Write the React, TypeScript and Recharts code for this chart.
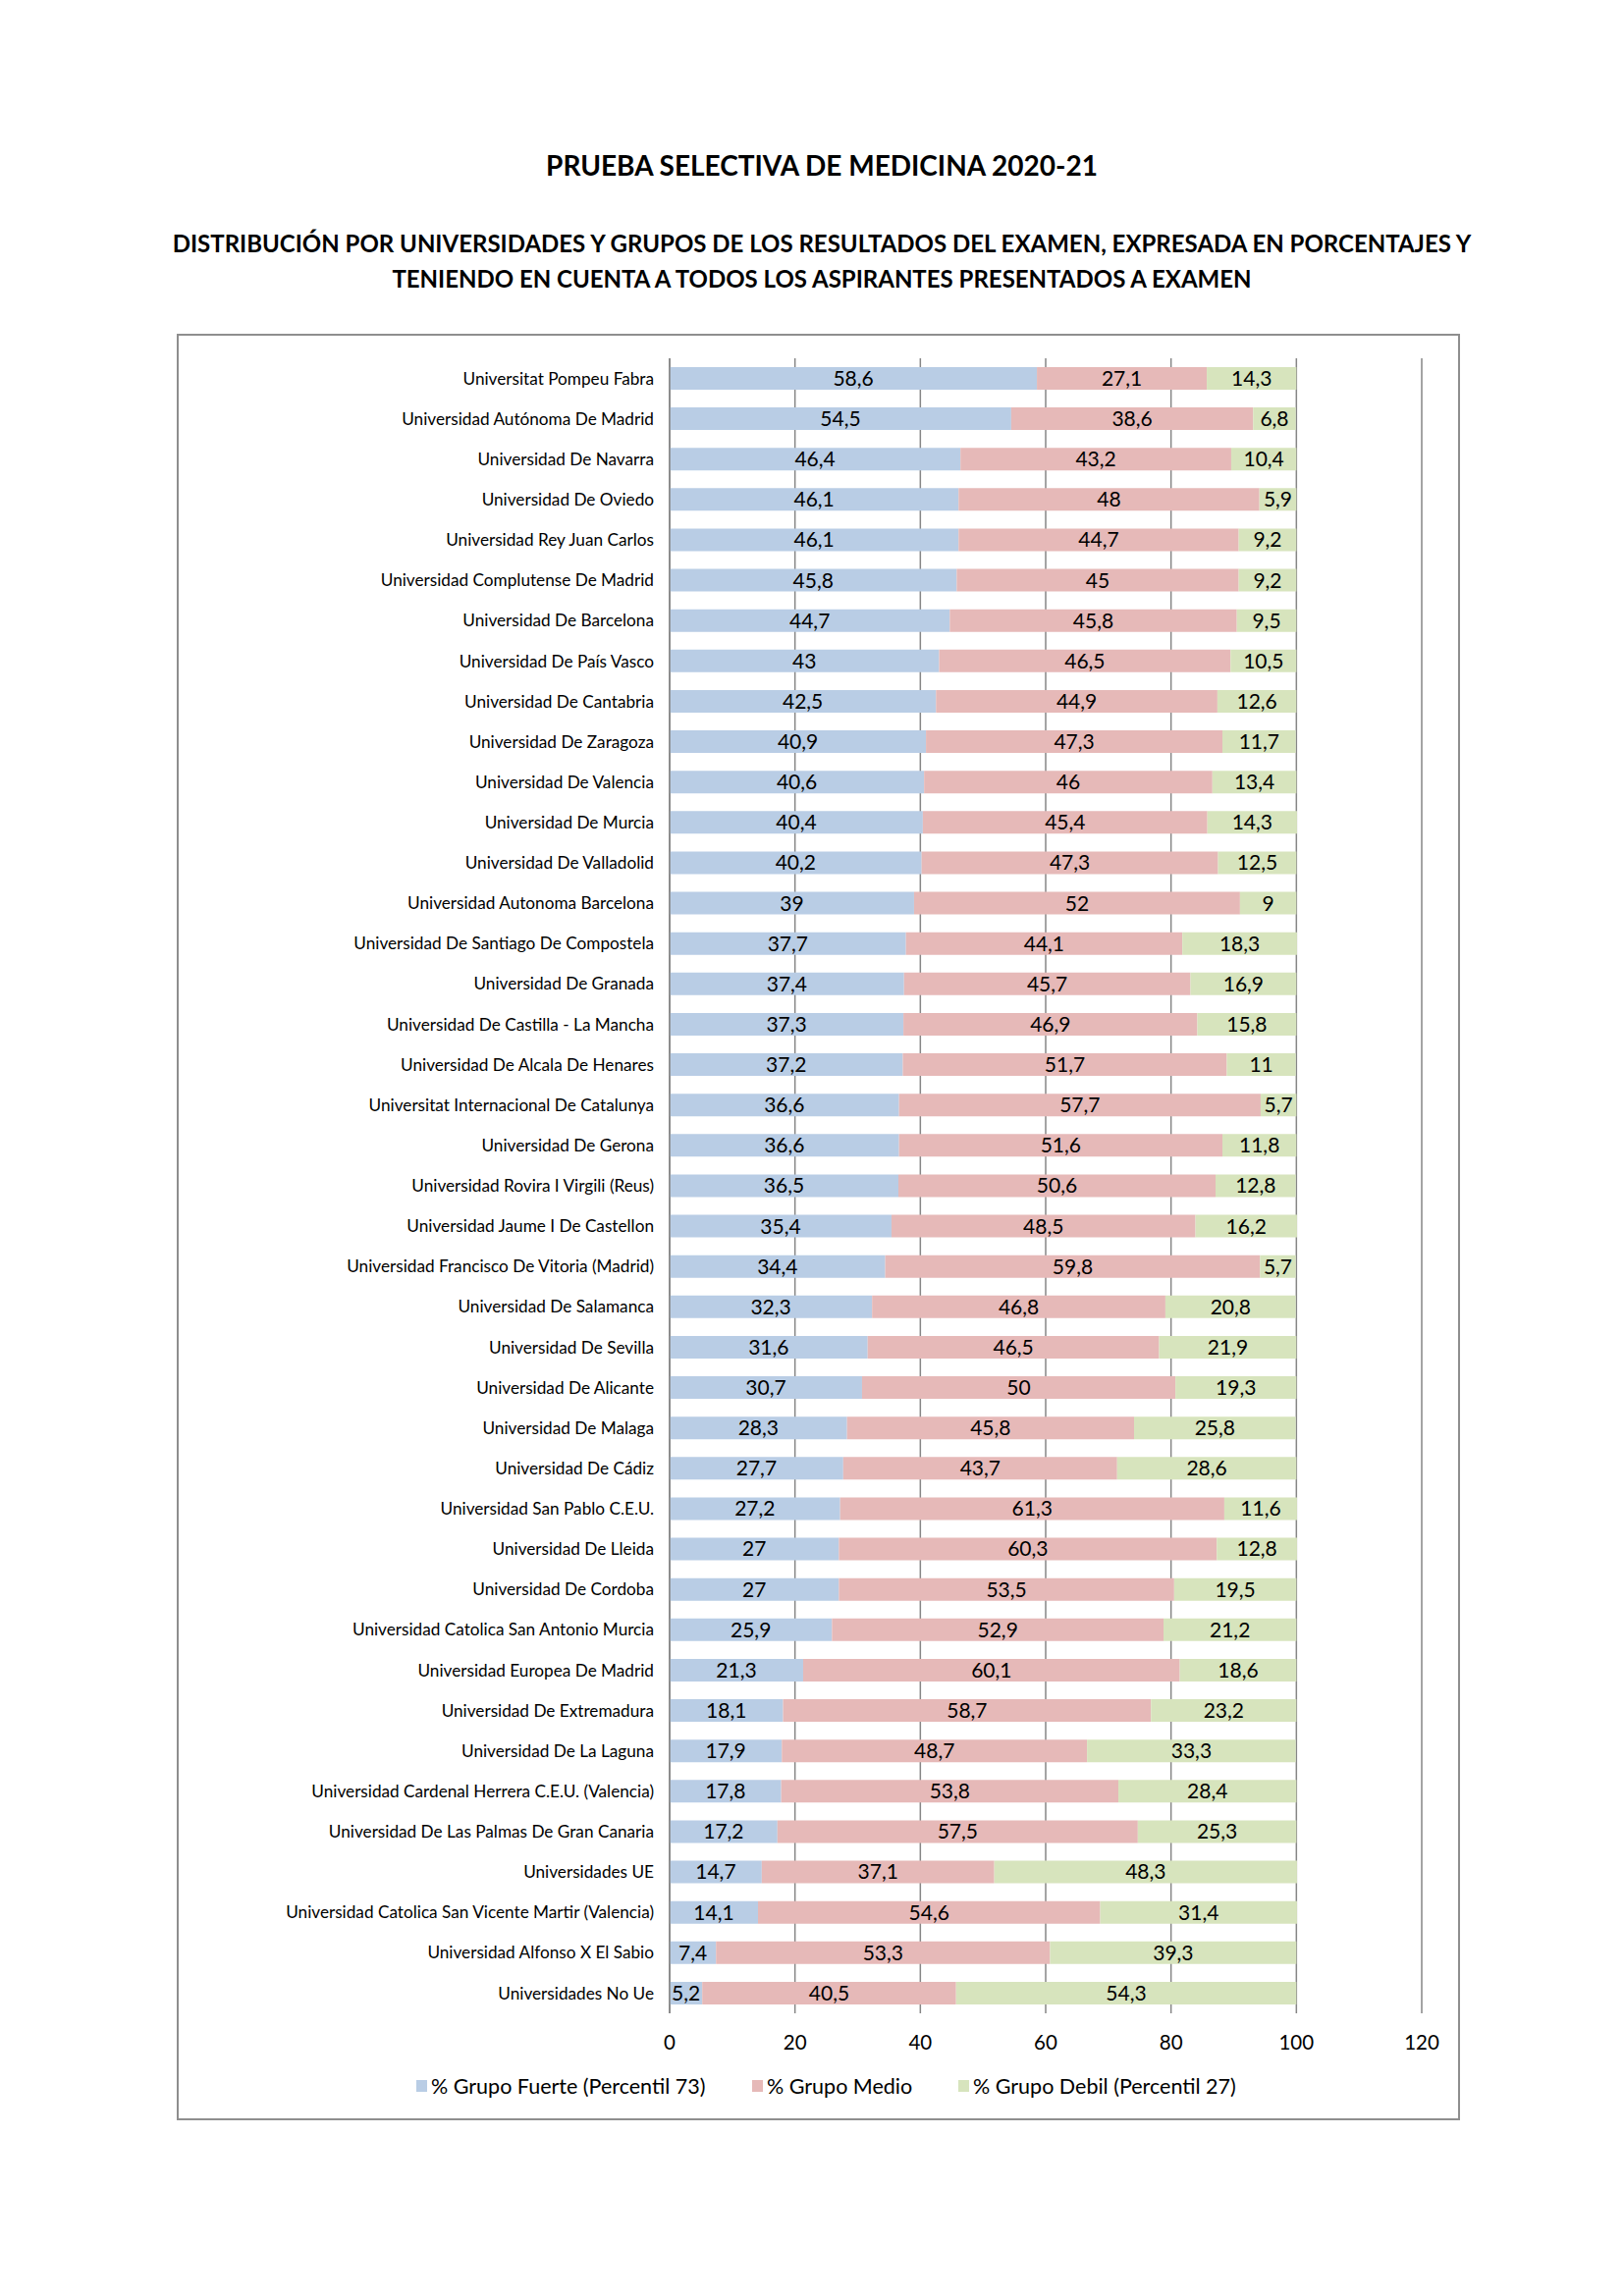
import React from 'react';
import { BarChart, Bar, XAxis, YAxis, CartesianGrid, LabelList } from 'recharts';

const categories = [
  'Universitat Pompeu Fabra',
  'Universidad Autónoma De Madrid',
  'Universidad De Navarra',
  'Universidad De Oviedo',
  'Universidad Rey Juan Carlos',
  'Universidad Complutense De Madrid',
  'Universidad De Barcelona',
  'Universidad De País Vasco',
  'Universidad De Cantabria',
  'Universidad De Zaragoza',
  'Universidad De Valencia',
  'Universidad De Murcia',
  'Universidad De Valladolid',
  'Universidad Autonoma Barcelona',
  'Universidad De Santiago De Compostela',
  'Universidad De Granada',
  'Universidad De Castilla - La Mancha',
  'Universidad De Alcala De Henares',
  'Universitat Internacional De Catalunya',
  'Universidad De Gerona',
  'Universidad Rovira I Virgili (Reus)',
  'Universidad Jaume I De Castellon',
  'Universidad Francisco De Vitoria (Madrid)',
  'Universidad De Salamanca',
  'Universidad De Sevilla',
  'Universidad De Alicante',
  'Universidad De Malaga',
  'Universidad De Cádiz',
  'Universidad San Pablo C.E.U.',
  'Universidad De Lleida',
  'Universidad De Cordoba',
  'Universidad Catolica San Antonio Murcia',
  'Universidad Europea De Madrid',
  'Universidad De Extremadura',
  'Universidad De La Laguna',
  'Universidad Cardenal Herrera C.E.U. (Valencia)',
  'Universidad De Las Palmas De Gran Canaria',
  'Universidades UE',
  'Universidad Catolica San Vicente Martir (Valencia)',
  'Universidad Alfonso X El Sabio',
  'Universidades No Ue',
];

const fuerte = [58.6, 54.5, 46.4, 46.1, 46.1, 45.8, 44.7, 43, 42.5, 40.9, 40.6, 40.4, 40.2, 39, 37.7, 37.4, 37.3, 37.2, 36.6, 36.6, 36.5, 35.4, 34.4, 32.3, 31.6, 30.7, 28.3, 27.7, 27.2, 27, 27, 25.9, 21.3, 18.1, 17.9, 17.8, 17.2, 14.7, 14.1, 7.4, 5.2];
const medio = [27.1, 38.6, 43.2, 48, 44.7, 45, 45.8, 46.5, 44.9, 47.3, 46, 45.4, 47.3, 52, 44.1, 45.7, 46.9, 51.7, 57.7, 51.6, 50.6, 48.5, 59.8, 46.8, 46.5, 50, 45.8, 43.7, 61.3, 60.3, 53.5, 52.9, 60.1, 58.7, 48.7, 53.8, 57.5, 37.1, 54.6, 53.3, 40.5];
const debil = [14.3, 6.8, 10.4, 5.9, 9.2, 9.2, 9.5, 10.5, 12.6, 11.7, 13.4, 14.3, 12.5, 9, 18.3, 16.9, 15.8, 11, 5.7, 11.8, 12.8, 16.2, 5.7, 20.8, 21.9, 19.3, 25.8, 28.6, 11.6, 12.8, 19.5, 21.2, 18.6, 23.2, 33.3, 28.4, 25.3, 48.3, 31.4, 39.3, 54.3];

const xTicks = [0, 20, 40, 60, 80, 100, 120];

const seriesNames = ['% Grupo Fuerte (Percentil 73)', '% Grupo Medio', '% Grupo Debil (Percentil 27)'];
const seriesColors = ['#b9cde5', '#e6b9b8', '#d7e4bd'];

const data = categories.map((name, i) => ({ name, fuerte: fuerte[i], medio: medio[i], debil: debil[i] }));

const FONT = 'Lato, "Open Sans", sans-serif';
const fmt = (v: any) => String(v).replace('.', ',');
const labelStyle = { fill: '#000', fontSize: 21, fontFamily: FONT };

const legendLefts = [424, 766, 976];

export default function App() {
  return (
    <div style={{ position: 'absolute', left: 0, top: 0, width: 1654, height: 2339, background: '#fff', fontFamily: FONT }}>
      <div style={{ position: 'absolute', left: 0, width: 1674, top: 151, textAlign: 'center', fontSize: 28, fontWeight: 700, whiteSpace: 'nowrap', lineHeight: '34px' }}>
        PRUEBA SELECTIVA DE MEDICINA 2020-21
      </div>
      <div style={{ position: 'absolute', left: 0, width: 1674, top: 230, textAlign: 'center', fontSize: 24, fontWeight: 700, whiteSpace: 'nowrap', lineHeight: '36px' }}>
        DISTRIBUCIÓN POR UNIVERSIDADES Y GRUPOS DE LOS RESULTADOS DEL EXAMEN, EXPRESADA EN PORCENTAJES Y
        <br />
        TENIENDO EN CUENTA A TODOS LOS ASPIRANTES PRESENTADOS A EXAMEN
      </div>
      <div style={{ position: 'absolute', left: 180, top: 340, width: 1307, height: 1820, border: '2px solid #8e8e8e', boxSizing: 'border-box' }} />
      <div style={{ position: 'absolute', left: 180, top: 340 }}>
        <BarChart
          width={1307}
          height={1820}
          data={data}
          layout="vertical"
          margin={{ top: 25, right: 39, bottom: 79, left: 0 }}
          barSize={23}
        >
          <CartesianGrid horizontal={false} stroke="#868686" strokeWidth={1.5} />
          <XAxis
            type="number"
            domain={[0, 120]}
            ticks={xTicks}
            axisLine={false}
            tickLine={false}
            tickMargin={16}
            height={30}
            tick={{ fill: '#000', fontSize: 20.5, fontFamily: FONT }}
          />
          <YAxis
            type="category"
            dataKey="name"
            width={502}
            interval={0}
            tickLine={false}
            tickMargin={10}
            axisLine={{ stroke: '#868686', strokeWidth: 1.5 }}
            tick={{ fill: '#000', fontSize: 17.2, fontFamily: FONT }}
          />
          <Bar dataKey="fuerte" name={seriesNames[0]} stackId="a" fill={seriesColors[0]} isAnimationActive={false}>
            <LabelList dataKey="fuerte" position="center" formatter={fmt} style={labelStyle} />
          </Bar>
          <Bar dataKey="medio" name={seriesNames[1]} stackId="a" fill={seriesColors[1]} isAnimationActive={false}>
            <LabelList dataKey="medio" position="center" formatter={fmt} style={labelStyle} />
          </Bar>
          <Bar dataKey="debil" name={seriesNames[2]} stackId="a" fill={seriesColors[2]} isAnimationActive={false}>
            <LabelList dataKey="debil" position="center" formatter={fmt} style={labelStyle} />
          </Bar>
        </BarChart>
      </div>
      {seriesNames.map((n, i) => (
        <div key={n} style={{ position: 'absolute', left: legendLefts[i], top: 2111, height: 28, display: 'flex', alignItems: 'center', fontSize: 21.5, whiteSpace: 'nowrap' }}>
          <span style={{ display: 'inline-block', width: 11, height: 12, background: seriesColors[i], marginRight: 4 }} />
          <span>{n}</span>
        </div>
      ))}
    </div>
  );
}
